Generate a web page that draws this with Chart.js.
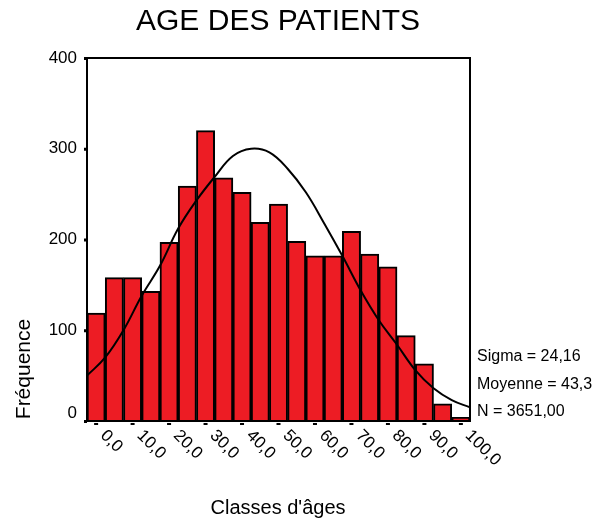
<!DOCTYPE html>
<html>
<head>
<meta charset="utf-8">
<script src="https://cdn.jsdelivr.net/npm/chart.js@4/dist/chart.umd.min.js"></script>
<style>
  body { margin: 0; background: #fff; }
  canvas { display: block; }
</style>
</head>
<body>
<canvas id="histo" width="595" height="518"></canvas>
<script>
// Histogram data (class centres, 5-year classes)
const ageClasses = [0, 5, 10, 15, 20, 25, 30, 35, 40, 45, 50, 55, 60, 65, 70, 75, 80, 85, 90, 95, 100];
const frequencies = [119, 158, 158, 143, 197, 259, 320, 268, 252, 219, 239, 198, 182, 182, 209, 184, 170, 94, 63, 19, 4];

// Normal curve
const curveAges = [-2.5, 2.5, 7.5, 12.5, 17.5, 22.5, 27.5, 32.5, 37.5, 42.5, 47.5, 52.5, 57.5, 62.5, 67.5, 72.5, 77.5, 82.5, 87.5, 92.5, 97.5, 102.5];
const curveValues = [50, 70, 100, 138, 171, 212, 243, 269, 292, 300, 296, 278, 252, 218, 182, 144, 111, 84, 56, 36, 23, 15];

// Axis ticks
const xTickValues = [0, 10, 20, 30, 40, 50, 60, 70, 80, 90, 100];
const xTickLabels = ["0,0", "10,0", "20,0", "30,0", "40,0", "50,0", "60,0", "70,0", "80,0", "90,0", "100,0"];
const yTickValues = [0, 100, 200, 300, 400];

const statsLines = ["Sigma = 24,16", "Moyenne = 43,3", "N = 3651,00"];

const FONT = '"Liberation Sans", Arial, sans-serif';

// draws frame, ticks, labels and titles
const decorations = {
    id: "decorations",
    afterDraw(chart) {
        const { ctx, chartArea: a, scales } = chart;
        const xs = scales.x, ys = scales.y;
        ctx.save();

        // frame
        ctx.strokeStyle = "#000";
        ctx.lineWidth = 2;
        ctx.strokeRect(a.left, a.top, a.right - a.left, a.bottom - a.top);

        // y ticks + labels
        ctx.fillStyle = "#000";
        ctx.font = "17px " + FONT;
        ctx.textAlign = "right";
        ctx.textBaseline = "middle";
        yTickValues.forEach((v) => {
            const y = ys.getPixelForValue(v);
            ctx.fillRect(a.left - 3, y - 1, 3, 3);
            ctx.fillText(String(v), a.left - 10, v === 0 ? y - 8 : y);
        });

        // x ticks + rotated labels
        ctx.font = "17px " + FONT;
        ctx.textAlign = "left";
        xTickValues.forEach((v, i) => {
            const x = xs.getPixelForValue(v);
            ctx.fillRect(x - 2, a.bottom + 2, 4, 2);
            ctx.save();
            ctx.translate(x + 7, a.bottom + 12);
            ctx.rotate(Math.PI / 4);
            ctx.fillText(xTickLabels[i], 0, 0);
            ctx.restore();
        });

        // stats on the right
        ctx.font = "16px " + FONT;
        ctx.textBaseline = "alphabetic";
        statsLines.forEach((t, i) => {
            ctx.fillText(t, a.right + 7, 361 + i * 27.5);
        });

        // title
        ctx.textAlign = "center";
        ctx.font = "30px " + FONT;
        ctx.fillText("AGE DES PATIENTS", 278, 30);

        // axis titles
        ctx.font = "20px " + FONT;
        ctx.fillText("Classes d'âges", 278, 514);
        ctx.save();
        ctx.translate(30, 369);
        ctx.rotate(-Math.PI / 2);
        ctx.font = "21px " + FONT;
        ctx.fillText("Fréquence", 0, 0);
        ctx.restore();

        ctx.restore();
    },
};

const ctx = document.getElementById("histo").getContext("2d");
const histo = new Chart(ctx, {
    type: "bar",
    data: {
        datasets: [
            {
                type: "line",
                data: curveAges.map((x, i) => ({ x: x, y: curveValues[i] })),
                borderColor: "#000",
                borderWidth: 2,
                pointRadius: 0,
                tension: 0.4,
                fill: false,
                order: 0,
            },
            {
                data: ageClasses.map((x, i) => ({ x: x, y: frequencies[i] })),
                backgroundColor: "#ED1C24",
                borderColor: "#000",
                borderWidth: 2,
                barPercentage: 1,
                categoryPercentage: 1,
                order: 1,
            },
        ],
    },
    options: {
        responsive: false,
        animation: false,
        layout: { padding: { left: 87, top: 58, right: 125, bottom: 97 } },
        plugins: { legend: { display: false }, tooltip: { enabled: false } },
        scales: {
            x: { type: "linear", min: -2.5, max: 102.5, offset: false, display: false },
            y: { type: "linear", min: 0, max: 400, display: false },
        },
    },
    plugins: [decorations],
});
</script>
</body>
</html>
